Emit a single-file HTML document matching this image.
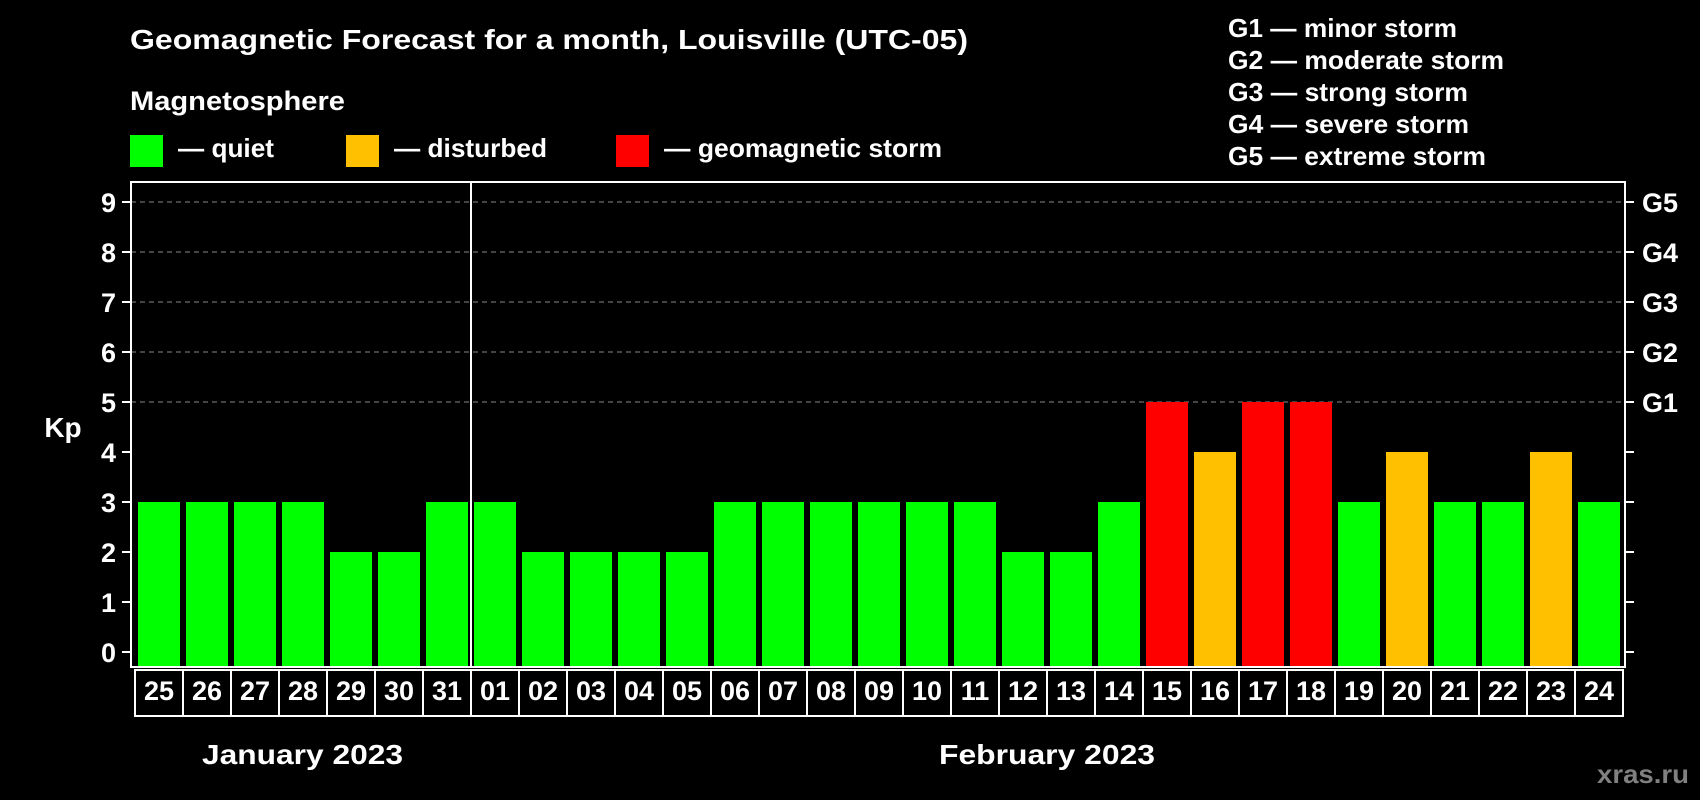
<!DOCTYPE html>
<html><head><meta charset="utf-8"><style>
html,body{margin:0;padding:0;background:#000;}
svg{display:block;font-family:"Liberation Sans",Arial,sans-serif;font-weight:bold;}
</style></head><body>
<svg id="chart" width="1700" height="800" viewBox="0 0 1700 800" xmlns="http://www.w3.org/2000/svg">
<rect width="1700" height="800" fill="#000"/>
<text x="130" y="49" font-size="28" fill="#fff" textLength="838" lengthAdjust="spacingAndGlyphs">Geomagnetic Forecast for a month, Louisville (UTC-05)</text>
<text x="130" y="110" font-size="27" fill="#fff" textLength="215" lengthAdjust="spacingAndGlyphs">Magnetosphere</text>
<g><rect x="130" y="135" width="33" height="32" fill="#00ff00"/><text x="178" y="157" font-size="26" fill="#fff" textLength="96" lengthAdjust="spacingAndGlyphs">— quiet</text></g>
<g><rect x="346" y="135" width="33" height="32" fill="#ffc000"/><text x="394" y="157" font-size="26" fill="#fff" textLength="153" lengthAdjust="spacingAndGlyphs">— disturbed</text></g>
<g><rect x="616" y="135" width="33" height="32" fill="#ff0000"/><text x="664" y="157" font-size="26" fill="#fff" textLength="278" lengthAdjust="spacingAndGlyphs">— geomagnetic storm</text></g>
<g font-size="26" fill="#fff">
<text x="1228" y="37" textLength="229" lengthAdjust="spacingAndGlyphs">G1 — minor storm</text>
<text x="1228" y="69" textLength="276" lengthAdjust="spacingAndGlyphs">G2 — moderate storm</text>
<text x="1228" y="101" textLength="240" lengthAdjust="spacingAndGlyphs">G3 — strong storm</text>
<text x="1228" y="133" textLength="241" lengthAdjust="spacingAndGlyphs">G4 — severe storm</text>
<text x="1228" y="165" textLength="258" lengthAdjust="spacingAndGlyphs">G5 — extreme storm</text>
</g>
<text x="63" y="437" font-size="28" fill="#fff" text-anchor="middle">Kp</text>
<g id="grid"></g>
<g id="bars"></g>
<g id="axes"></g>
<text x="202" y="764" font-size="28" fill="#fff" textLength="201" lengthAdjust="spacingAndGlyphs">January 2023</text>
<text x="939" y="764" font-size="28" fill="#fff" textLength="216" lengthAdjust="spacingAndGlyphs">February 2023</text>
<text x="1597" y="783" font-size="26" fill="#808080" textLength="92" lengthAdjust="spacingAndGlyphs">xras.ru</text>
</svg>
<script>
const days = ["25","26","27","28","29","30","31","01","02","03","04","05","06","07","08","09","10","11","12","13","14","15","16","17","18","19","20","21","22","23","24"];
const kpValues = [3,3,3,3,2,2,3,3,2,2,2,2,3,3,3,3,3,3,2,2,3,5,4,5,5,3,4,3,3,4,3];
const yTicks = [0,1,2,3,4,5,6,7,8,9];
const gLabels = ["","","","","","G1","G2","G3","G4","G5"];
const NS="http://www.w3.org/2000/svg";
const L=131,R=1625,T=182,B=667,slot0=134,slotW=48;
function y(v){return 652-v*50;}
function x(i){return slot0+i*slotW;}
function color(v){return v>=5?"#ff0000":(v>=4?"#ffc000":"#00ff00");}
function mk(tag,attrs,parent){const e=document.createElementNS(NS,tag);for(const k in attrs)e.setAttribute(k,attrs[k]);parent.appendChild(e);return e;}
const grid=document.getElementById('grid'),bars=document.getElementById('bars'),axes=document.getElementById('axes');
yTicks.forEach((t,i)=>{
  if(t>=5){const g=mk('line',{x1:L,x2:R,y1:y(t),y2:y(t),stroke:'#888','stroke-dasharray':'5,4','stroke-width':1},grid);
  
  }
  const tl=mk('line',{x1:L-9,x2:L,y1:y(t),y2:y(t),stroke:'#fff','stroke-width':2},axes);
  
  
  const tr=mk('line',{x1:R,x2:R+9,y1:y(t),y2:y(t),stroke:'#fff','stroke-width':2},axes);
  
  
  const lab=mk('text',{x:116,y:y(t)+10,'font-size':27,fill:'#fff','text-anchor':'end'},axes);
  lab.textContent=t;
  
  
  if(gLabels[i]){const gl=mk('text',{x:1642,y:y(t)+10,'font-size':27,fill:'#fff'},axes);
  gl.textContent=gLabels[i];
  
  }
});
kpValues.forEach((v,i)=>{
  const b=mk('rect',{x:x(i)+4,y:y(v),width:42,height:B-y(v),fill:color(v)},bars);
  
  
  const c=mk('rect',{x:x(i)+1,y:670,width:slotW,height:46,fill:'none',stroke:'#fff','stroke-width':2},axes);
  
  
  const t=mk('text',{x:x(i)+25,y:700,'font-size':27,fill:'#fff','text-anchor':'middle'},axes);
  t.textContent=days[i];
  
  
});
const frame=mk('rect',{x:L,y:T,width:R-L,height:B-T,fill:'none',stroke:'#fff','stroke-width':2},axes);


const sep=mk('line',{x1:x(7)+1,x2:x(7)+1,y1:T,y2:B,stroke:'#fff','stroke-width':2},axes);


</script>
</body></html>
